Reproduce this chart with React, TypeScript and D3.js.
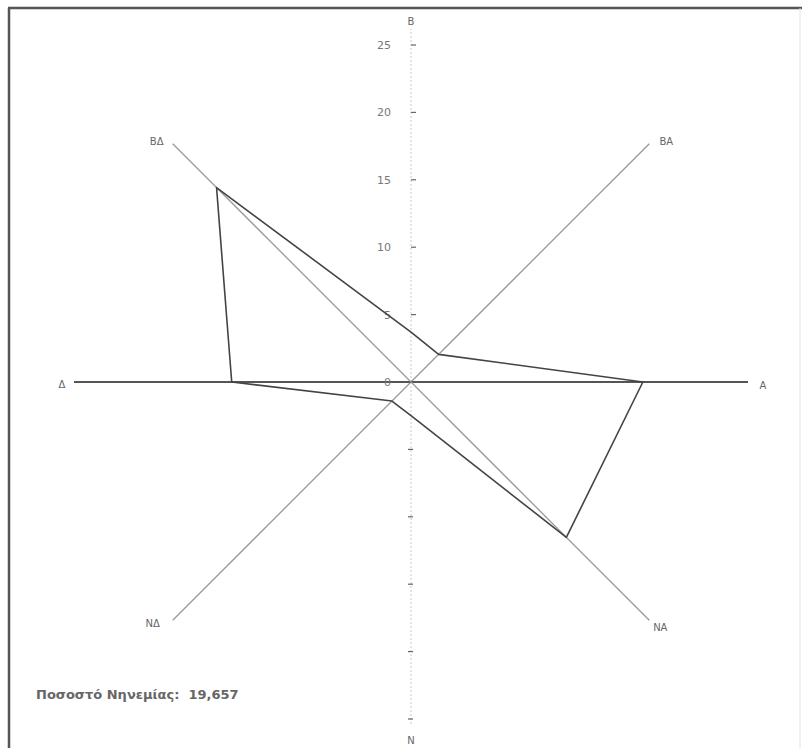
import React from "react";
import * as d3 from "d3";

const directions = ["Β", "ΒΑ", "Α", "ΝΑ", "Ν", "ΝΔ", "Δ", "ΒΔ"];
const frequencies = [3.7, 2.9, 17.2, 16.3, 2.5, 2.0, 13.3, 20.4];
const tickValues = [0, 5, 10, 15, 20, 25];
const calmLabel = "Ποσοστό Νηνεμίας:";
const calmValue = "19,657";

const W = 802;
const H = 748;
const cx = 411;
const cy = 382;

export default function App() {
  const r = d3.scaleLinear().domain([0, 25]).range([0, 337]);
  const angle = d3
    .scaleLinear()
    .domain([0, directions.length])
    .range([0, 2 * Math.PI]);

  const pt = (i: number, v: number): [number, number] => {
    const a = angle(i);
    return [cx + Math.sin(a) * r(v), cy - Math.cos(a) * r(v)];
  };

  const polyPts = frequencies.map((v, i) => pt(i, v));
  const line = d3.line().curve(d3.curveLinearClosed);

  const axisLen = 25;
  const labelOffsets: Record<string, [number, number]> = {
    "Β": [0, -16],
    "ΒΑ": [17, -2],
    "Α": [15, 4],
    "ΝΑ": [11, 8],
    "Ν": [0, 15],
    "ΝΔ": [-20, 4],
    "Δ": [-12, 3],
    "ΒΔ": [-16, -2],
  };

  return (
    <svg
      width={W}
      height={H}
      style={{ position: "absolute", left: 0, top: 0, background: "#fff" }}
      fontFamily="'DejaVu Sans', Verdana, sans-serif"
    >
      <rect x={0} y={0} width={W} height={H} fill="#fff" />
      {/* frame */}
      <line x1={8} y1={8} x2={W} y2={8} stroke="#555" strokeWidth={2.5} />
      <line x1={9} y1={8} x2={9} y2={H} stroke="#555" strokeWidth={2.5} />
      <line x1={800} y1={8} x2={800} y2={H} stroke="#e2e2e2" strokeWidth={1} />

      {/* axes */}
      {directions.map((d, i) => {
        const [x2, y2] = pt(i, d === "Β" ? 26.2 : d === "Ν" ? 25.5 : axisLen);
        let stroke = "#999";
        let sw = 1.3;
        let dash: string | undefined = undefined;
        if (d === "Α" || d === "Δ") {
          stroke = "#555";
          sw = 1.8;
        } else if (d === "Β" || d === "Ν") {
          stroke = "#c8c8c8";
          sw = 1;
          dash = "2,2";
        }
        return (
          <line
            key={d}
            x1={cx}
            y1={cy}
            x2={x2}
            y2={y2}
            stroke={stroke}
            strokeWidth={sw}
            strokeDasharray={dash}
          />
        );
      })}

      {/* ticks on vertical axis */}
      {tickValues.filter((t) => t > 0).map((t) => (
        <g key={"t" + t}>
          <line x1={cx} x2={cx + 5} y1={cy - r(t)} y2={cy - r(t)} stroke="#666" strokeWidth={1.2} />
          <line x1={cx - 3} x2={cx + 2} y1={cy + r(t)} y2={cy + r(t)} stroke="#666" strokeWidth={1.2} />
        </g>
      ))}
      {tickValues.map((t) => (
        <text
          key={"l" + t}
          x={cx - 20}
          y={cy - r(t) + 4}
          textAnchor="end"
          fontSize={11}
          fill="#777"
        >
          {t}
        </text>
      ))}

      {/* direction labels */}
      {directions.map((d, i) => {
        const [x, y] = pt(i, d === "Β" || d === "Ν" ? 25.5 : axisLen);
        const [ox, oy] = labelOffsets[d];
        return (
          <text
            key={"d" + d}
            x={x + ox}
            y={y + oy}
            textAnchor="middle"
            dominantBaseline="middle"
            fontSize={10}
            fill="#666"
          >
            {d}
          </text>
        );
      })}

      {/* data polygon */}
      <path
        d={line(polyPts) || ""}
        fill="none"
        stroke="#444"
        strokeWidth={1.6}
        strokeLinejoin="round"
      />

      {/* calm percentage */}
      <text x={36} y={699} fontSize={13} fill="#666" fontWeight="bold" xmlSpace="preserve">
        {calmLabel + "  " + calmValue}
      </text>
    </svg>
  );
}
